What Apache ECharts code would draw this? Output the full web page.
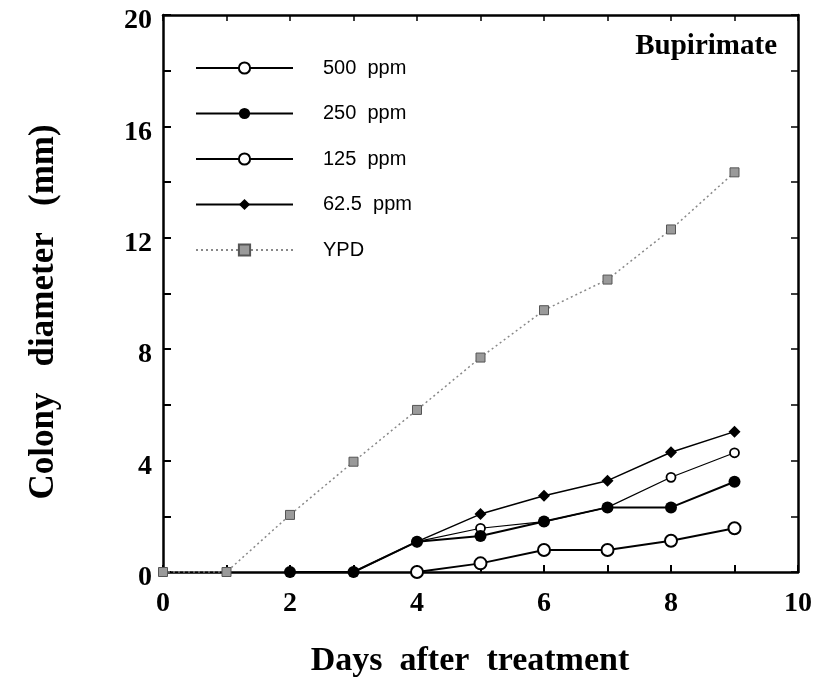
<!DOCTYPE html>
<html>
<head>
<meta charset="utf-8">
<script src="https://cdn.jsdelivr.net/npm/echarts@6/dist/echarts.min.js"></script>
<style>html,body{margin:0;padding:0;background:#fff}#c{width:819px;height:678px}</style>
</head>
<body>
<div id="c"></div>
<script>
var days = [0, 1, 2, 3, 4, 5, 6, 7, 8, 9];
var ppm500 = [null, null, null, null, 0, 0.31, 0.79, 0.79, 1.12, 1.57];
var ppm250 = [null, null, 0, 0, 1.09, 1.29, 1.81, 2.32, 2.32, 3.24];
var ppm125 = [null, null, null, null, 1.09, 1.57, 1.81, 2.32, 3.40, 4.28];
var ppm62 = [null, null, 0, 0, 1.09, 2.08, 2.74, 3.28, 4.30, 5.04];
var ypd = [0, 0, 2.05, 3.96, 5.82, 7.7, 9.4, 10.5, 12.3, 14.35];
var xTicks = [0, 2, 4, 6, 8, 10];
var yTicks = [0, 4, 8, 12, 16, 20];
var seriesNames = ['500  ppm', '250  ppm', '125  ppm', '62.5  ppm', 'YPD'];
var xTitle = 'Days  after  treatment';
var yTitle = 'Colony   diameter   (mm)';
var panelTitle = 'Bupirimate';

function pairs(vals) {
  var out = [];
  for (var i = 0; i < days.length; i++) if (vals[i] !== null) out.push([days[i], vals[i]]);
  return out;
}
var serif = '"Liberation Serif", "Times New Roman", serif';
var sans = '"Liberation Sans", Arial, sans-serif';
var chart = echarts.init(document.getElementById('c'));
var axisLine = {show: true, onZero: false, lineStyle: {color: '#000', width: 2.5}};
chart.setOption({
  animation: false,
  backgroundColor: '#fff',
  title: {text: panelTitle, right: 37, top: 27,
    textStyle: {fontFamily: serif, fontWeight: 'bold', fontSize: 29, color: '#000'}},
  graphic: [
    {type: 'text', x: 470, y: 661, silent: true,
      style: {text: xTitle, fill: '#000', align: 'center', verticalAlign: 'middle',
        font: 'bold 34px ' + serif}},
    {type: 'text', x: 44, y: 312, rotation: Math.PI / 2, silent: true,
      style: {text: yTitle, fill: '#000', align: 'center', verticalAlign: 'middle',
        font: 'bold 35px ' + serif}}
  ],
  legend: {
    orient: 'vertical', left: 190, top: 53, itemWidth: 97, itemHeight: 14, itemGap: 25.5,
    data: seriesNames,
    textStyle: {fontFamily: sans, fontSize: 20, color: '#000', padding: [0, 0, 0, 25]}
  },
  grid: {left: 163, right: 21, top: 15, bottom: 106, containLabel: false},
  xAxis: [{
    type: 'value', position: 'bottom', min: 0, max: 10, interval: 1,
    axisLine: axisLine, splitLine: {show: false},
    axisTick: {inside: true, length: 7, lineStyle: {color: '#000', width: 2}},
    axisLabel: {margin: 18, fontFamily: serif, fontWeight: 'bold', fontSize: 28, color: '#000',
      formatter: function (v) { return xTicks.indexOf(v) >= 0 ? String(v) : ''; }}
  }, {
    type: 'value', position: 'top', min: 0, max: 10, interval: 1,
    axisLine: axisLine, splitLine: {show: false},
    axisTick: {inside: true, length: 6, lineStyle: {color: '#000', width: 1.5}},
    axisLabel: {show: false}
  }],
  yAxis: [{
    type: 'value', position: 'left', min: 0, max: 20, interval: 2,
    axisLine: axisLine, splitLine: {show: false},
    axisTick: {inside: true, length: 8, lineStyle: {color: '#000', width: 2}},
    axisLabel: {margin: 11, fontFamily: serif, fontWeight: 'bold', fontSize: 28, color: '#000',
      verticalAlign: 'top', lineHeight: 12,
      formatter: function (v) { return yTicks.indexOf(v) >= 0 ? String(v) : ''; }}
  }, {
    type: 'value', position: 'right', min: 0, max: 20, interval: 2,
    axisLine: axisLine, splitLine: {show: false},
    axisTick: {inside: true, length: 7, lineStyle: {color: '#000', width: 1.5}},
    axisLabel: {show: false}
  }],
  series: [
    {name: 'YPD', type: 'line', data: pairs(ypd), z: 2,
      symbol: 'rect', symbolSize: 9,
      lineStyle: {color: '#888', width: 1.5, type: [2, 3]},
      itemStyle: {color: '#9a9a9a', borderColor: '#555', borderWidth: 1}},
    {name: '125  ppm', type: 'line', data: pairs(ppm125), z: 3,
      symbol: 'circle', symbolSize: 9,
      lineStyle: {color: '#000', width: 1.2},
      itemStyle: {color: '#fff', borderColor: '#000', borderWidth: 1.8}},
    {name: '500  ppm', type: 'line', data: pairs(ppm500), z: 3,
      symbol: 'circle', symbolSize: 12,
      lineStyle: {color: '#000', width: 2},
      itemStyle: {color: '#fff', borderColor: '#000', borderWidth: 2}},
    {name: '62.5  ppm', type: 'line', data: pairs(ppm62), z: 4,
      symbol: 'diamond', symbolSize: 12,
      lineStyle: {color: '#000', width: 1.5},
      itemStyle: {color: '#000'}},
    {name: '250  ppm', type: 'line', data: pairs(ppm250), z: 5,
      symbol: 'circle', symbolSize: 12,
      lineStyle: {color: '#000', width: 2},
      itemStyle: {color: '#000'}}
  ]
});
</script>
</body>
</html>
